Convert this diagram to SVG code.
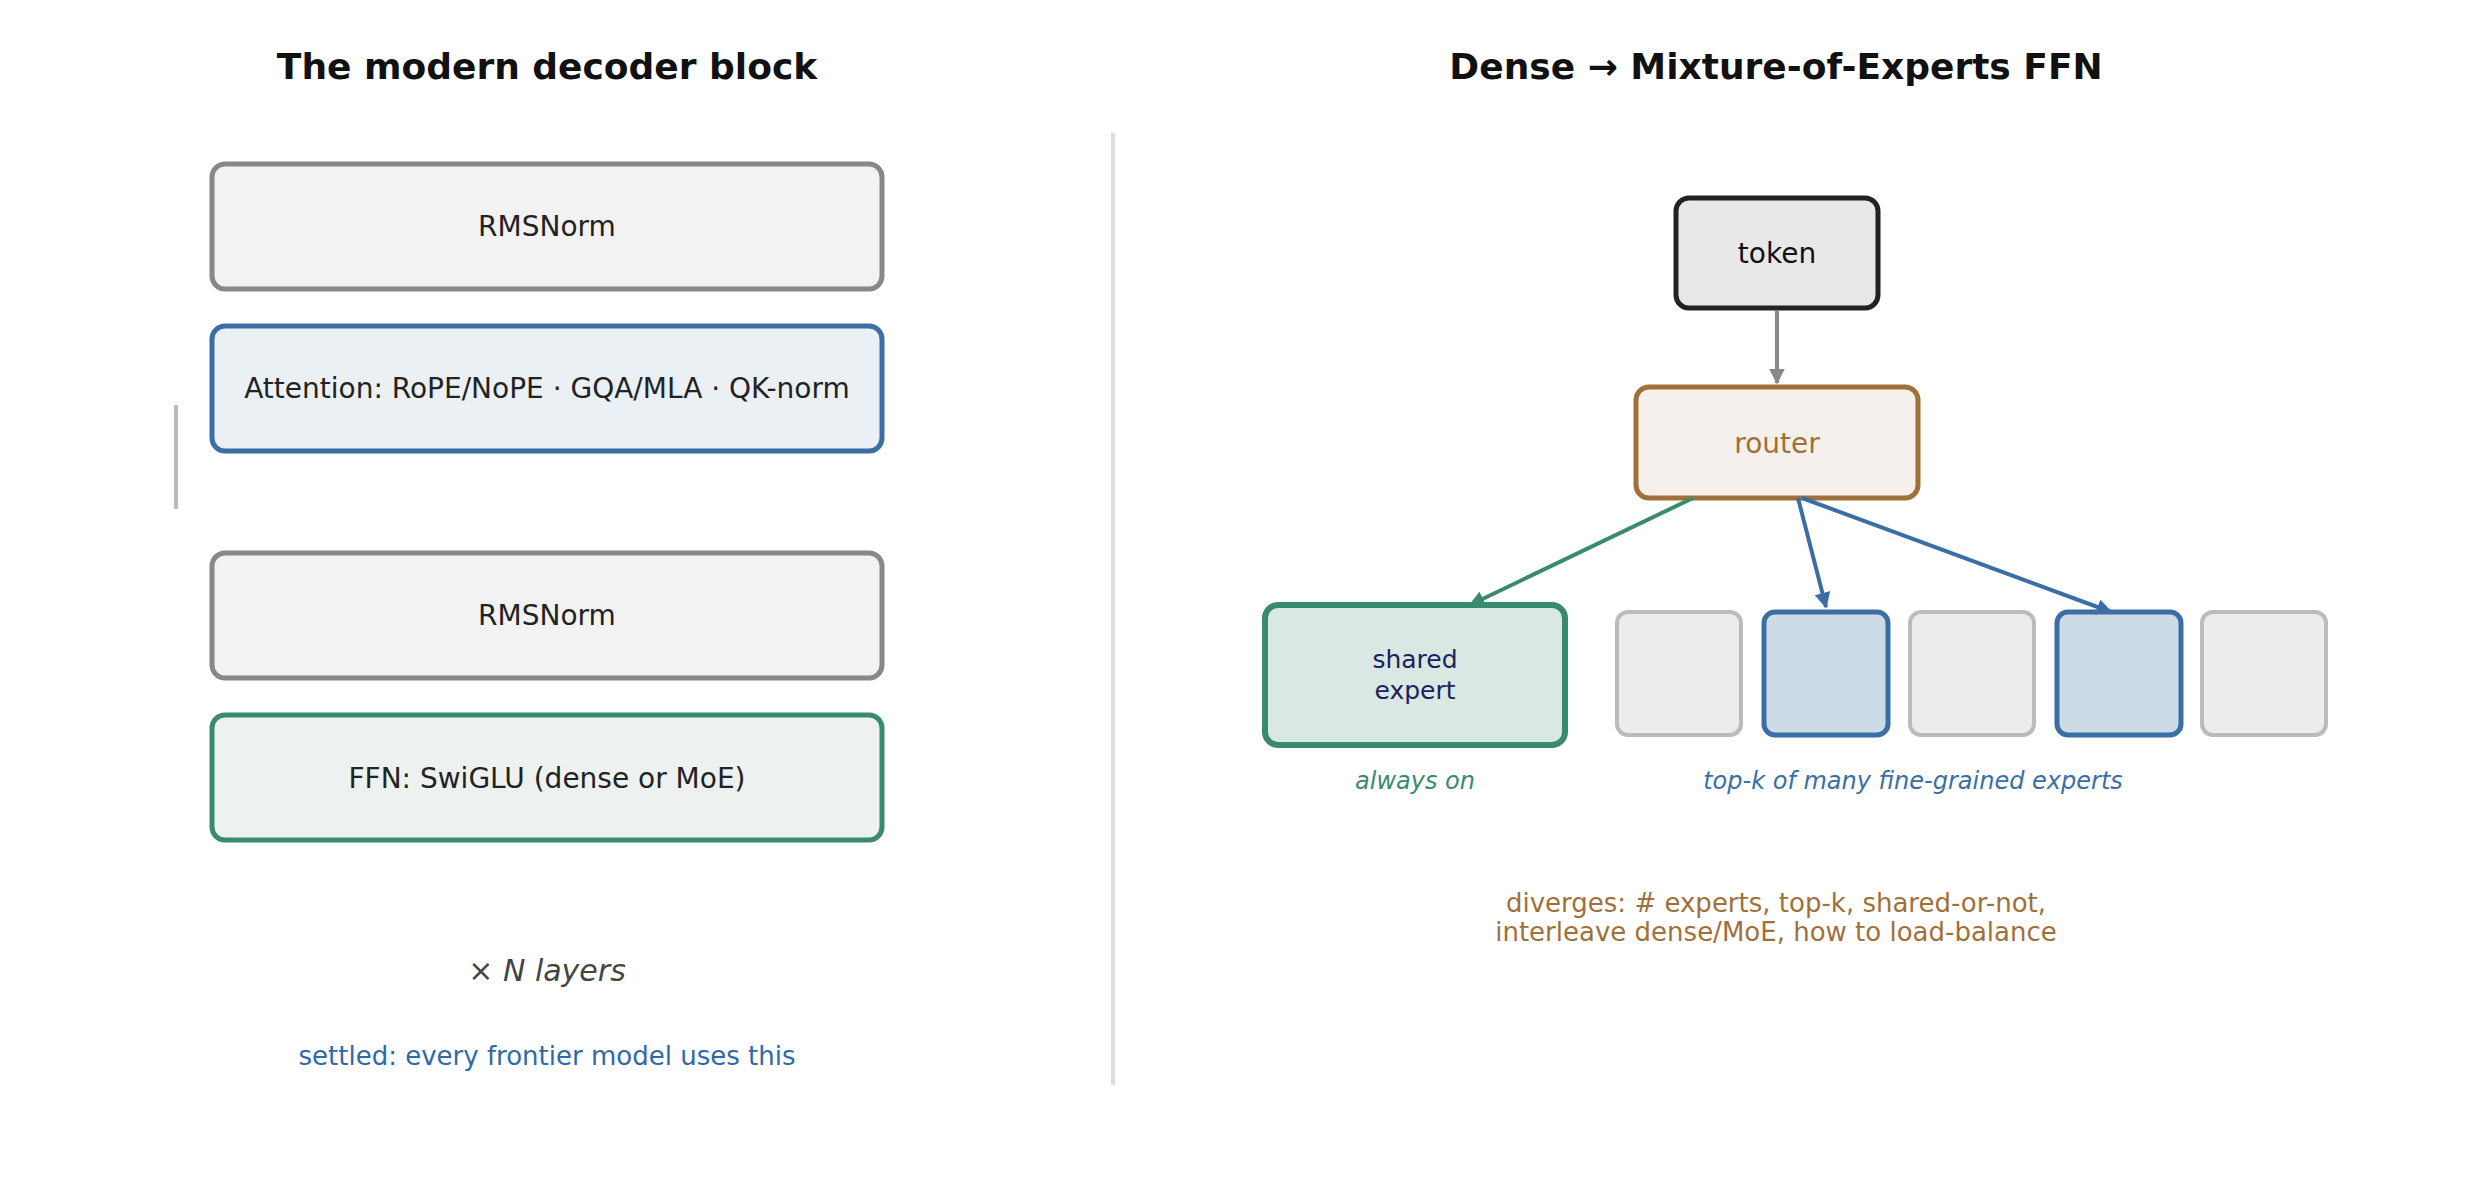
<svg xmlns="http://www.w3.org/2000/svg" width="2479" height="1180" viewBox="0 0 2479 1180">
<style>
text{font-family:"DejaVu Sans","Noto Sans",sans-serif;text-anchor:middle;dominant-baseline:central}
.t{font-size:36px;font-weight:bold;fill:#111}
.b{font-size:28px;fill:#222}
.gray{fill:#f2f2f2;stroke:#888;stroke-width:5}
.ex{fill:#ececec;stroke:#bbb;stroke-width:4}
.exb{fill:#cddbe7;stroke:#3a6ea5;stroke-width:5}
</style>
<defs>
<marker id="ag" viewBox="0 0 10 10" refX="9" refY="5" markerWidth="4" markerHeight="4" orient="auto" markerUnits="strokeWidth"><path d="M0,0 L10,5 L0,10 z" fill="#888"/></marker>
<marker id="agr" viewBox="0 0 10 10" refX="9" refY="5" markerWidth="4" markerHeight="4" orient="auto" markerUnits="strokeWidth"><path d="M0,0 L10,5 L0,10 z" fill="#3a8a6e"/></marker>
<marker id="ab" viewBox="0 0 10 10" refX="9" refY="5" markerWidth="4" markerHeight="4" orient="auto" markerUnits="strokeWidth"><path d="M0,0 L10,5 L0,10 z" fill="#3a6ea5"/></marker>
</defs>
<rect width="2479" height="1180" fill="#fff"/>
<text class="t" x="547" y="66">The modern decoder block</text>
<text class="t" x="1776" y="66">Dense → Mixture-of-Experts FFN</text>
<line x1="1113" y1="133" x2="1113" y2="1085" stroke="#ddd" stroke-width="4"/>
<line x1="176" y1="405" x2="176" y2="509" stroke="#bbb" stroke-width="4"/>
<g id="rmsnorm1"><rect class="gray" x="212" y="164" width="670" height="125" rx="13"/><text class="b" x="547" y="226">RMSNorm</text></g>
<g id="attention"><rect x="212" y="326" width="670" height="125" rx="13" fill="#ebf0f5" stroke="#3a6ea5" stroke-width="5"/><text class="b" x="547" y="388">Attention:  RoPE/NoPE · GQA/MLA · QK-norm</text></g>
<g id="rmsnorm2"><rect class="gray" x="212" y="553" width="670" height="125" rx="13"/><text class="b" x="547" y="615">RMSNorm</text></g>
<g id="ffn"><rect x="212" y="715" width="670" height="125" rx="13" fill="#edf2f0" stroke="#3a8a6e" stroke-width="5"/><text class="b" x="547" y="778">FFN:  SwiGLU  (dense or MoE)</text></g>
<text x="547" y="970" font-size="30" fill="#444"><tspan>×  </tspan><tspan font-style="italic">N layers</tspan></text>
<text x="547" y="1056" font-size="26" fill="#2e6aa8">settled: every frontier model uses this</text>
<g id="token"><rect x="1676" y="198" width="202" height="110" rx="13" fill="#e8e8e8" stroke="#222" stroke-width="5"/><text x="1777" y="253" font-size="28" fill="#111">token</text></g>
<g id="router"><rect x="1636" y="387" width="282" height="111" rx="13" fill="#f5f0eb" stroke="#a0703a" stroke-width="5"/><text x="1777" y="443" font-size="28" fill="#a0703a">router</text></g>
<g id="shared"><rect x="1265" y="605" width="300" height="140" rx="13" fill="#d9e8e2" stroke="#3a8a6e" stroke-width="6"/><text x="1415" y="659" font-size="25" fill="#1f2060">shared</text><text x="1415" y="690" font-size="25" fill="#1f2060">expert</text></g>
<g id="e1"><rect class="ex" x="1617" y="612" width="124" height="123" rx="11"/></g>
<g id="e2"><rect class="exb" x="1764" y="612" width="124" height="123" rx="11"/></g>
<g id="e3"><rect class="ex" x="1910" y="612" width="124" height="123" rx="11"/></g>
<g id="e4"><rect class="exb" x="2057" y="612" width="124" height="123" rx="11"/></g>
<g id="e5"><rect class="ex" x="2202" y="612" width="124" height="123" rx="11"/></g>
<g id="connectors" fill="none" stroke-width="4">
<line x1="1777" y1="310" x2="1777" y2="383" stroke="#888" marker-end="url(#ag)"/>
<line x1="1693" y1="498" x2="1470" y2="605" stroke="#3a8a6e" marker-end="url(#agr)"/>
<line x1="1798" y1="498" x2="1826" y2="607" stroke="#3a6ea5" marker-end="url(#ab)"/>
<line x1="1802" y1="498" x2="2111" y2="612" stroke="#3a6ea5" marker-end="url(#ab)"/>
</g>
<text x="1415" y="781" font-size="24" font-style="italic" fill="#3a8a6e">always on</text>
<text x="1913" y="781" font-size="24" font-style="italic" fill="#3a6ea5">top-k of many fine-grained experts</text>
<text x="1776" y="903" font-size="26" fill="#a0703a">diverges: # experts, top-k, shared-or-not,</text>
<text x="1776" y="932" font-size="26" fill="#a0703a">interleave dense/MoE, how to load-balance</text>
</svg>
